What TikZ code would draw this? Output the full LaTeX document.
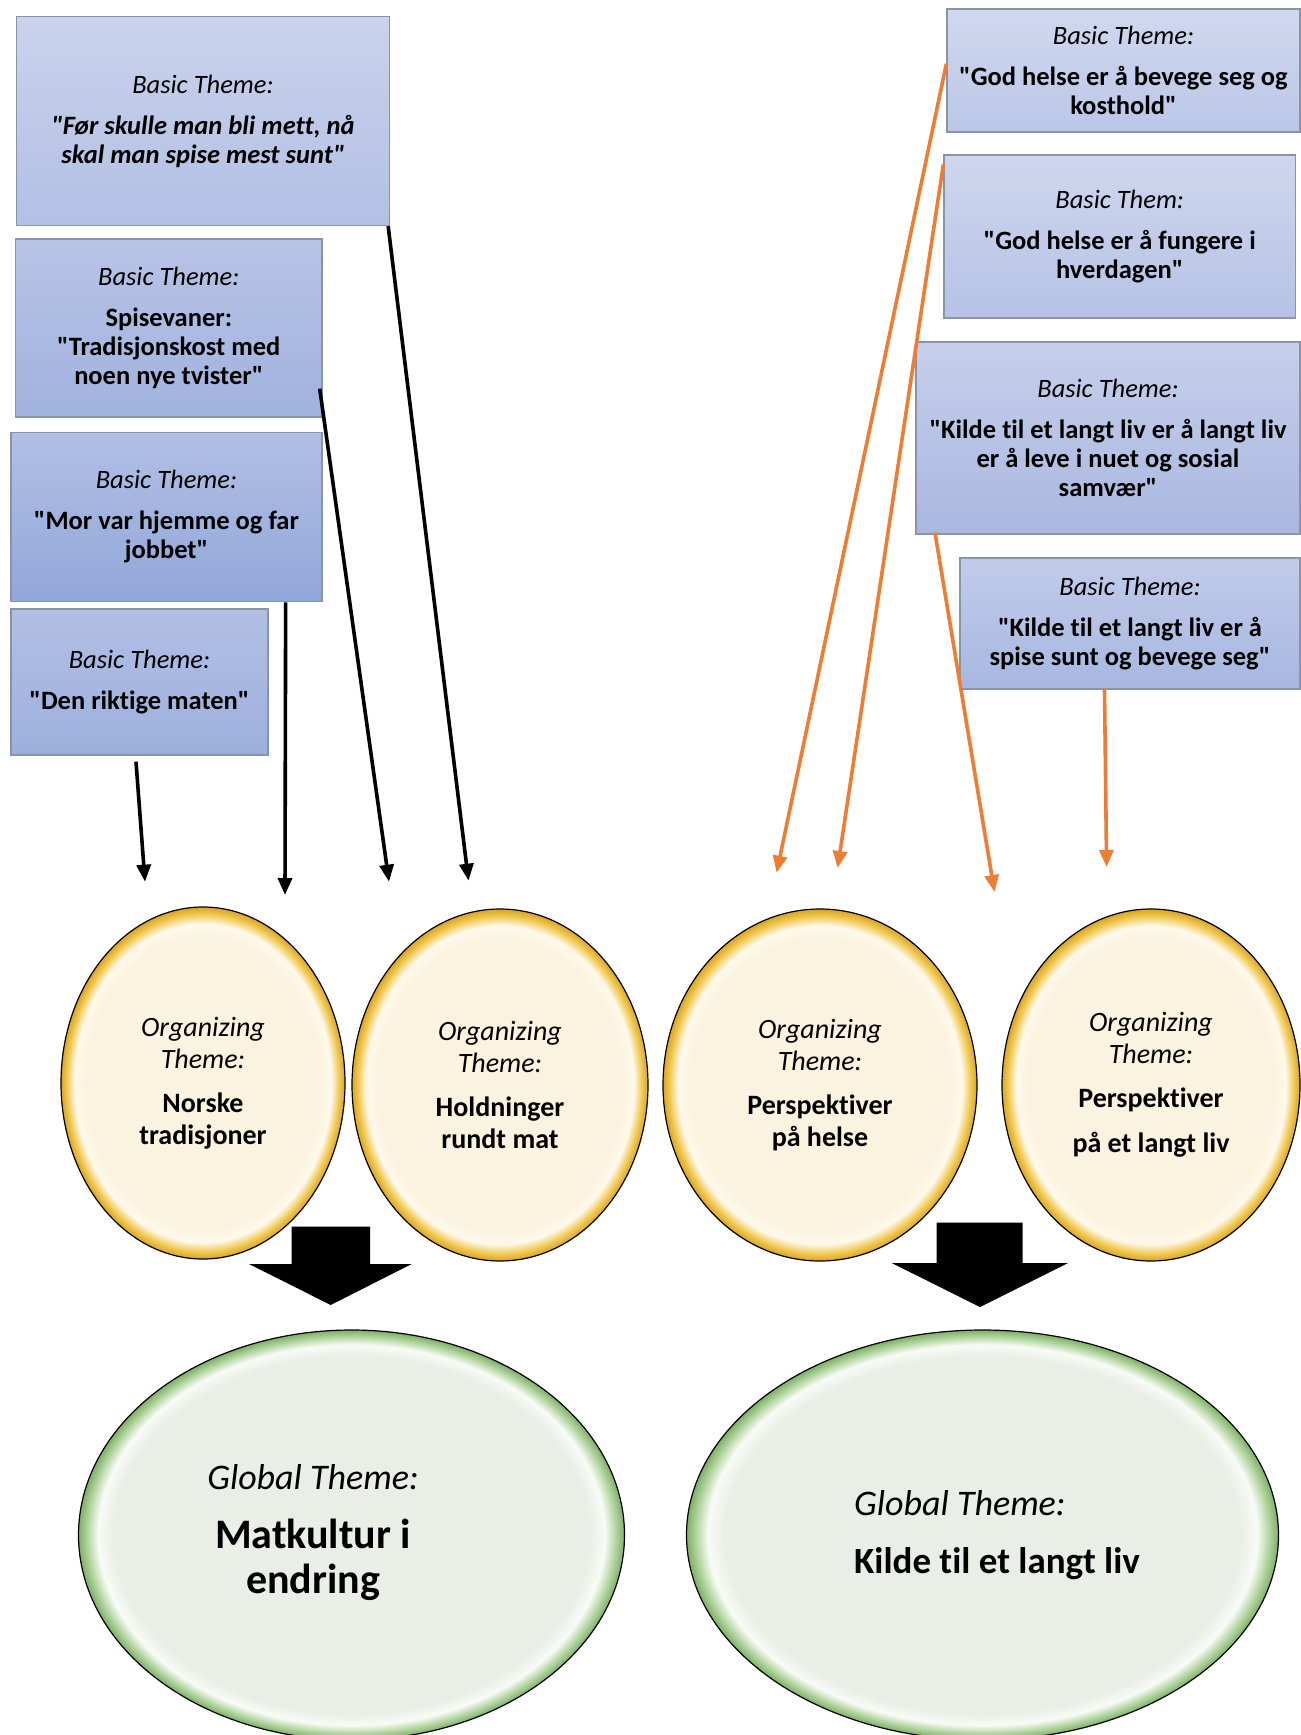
\documentclass[tikz,border=0pt]{standalone}
\usepackage{fontspec}
\setmainfont{Carlito}[Ligatures={TeXOff,NoCommon}]
\usetikzlibrary{shapes.geometric,arrows.meta,calc}
\definecolor{ycream}{HTML}{FAF3DF}
\definecolor{yhigh}{HTML}{FFF9EC}
\definecolor{ygold}{HTML}{F0C850}
\definecolor{ydark}{HTML}{D9A526}
\definecolor{gcream}{HTML}{E9EFE6}
\definecolor{ghigh}{HTML}{F8FBF6}
\definecolor{ggreen}{HTML}{AAD197}
\definecolor{gdark}{HTML}{7FAE69}
\definecolor{boxline}{HTML}{8B93AA}
\definecolor{orangeline}{HTML}{ED7D31}
\definecolor{topA}{HTML}{CAD2EC}\definecolor{botA}{HTML}{B3C0E4}
\definecolor{topB}{HTML}{B8C4E6}\definecolor{botB}{HTML}{A0B2DE}
\definecolor{topC}{HTML}{B2BFE4}\definecolor{botC}{HTML}{91A7D9}
\definecolor{topD}{HTML}{B2BFE4}\definecolor{botD}{HTML}{9DB0DD}
\definecolor{topE}{HTML}{D1D8EE}\definecolor{botE}{HTML}{BBC7E8}
\definecolor{topF}{HTML}{CFD6EE}\definecolor{botF}{HTML}{B6C3E6}
\definecolor{topG}{HTML}{C6CFEB}\definecolor{botG}{HTML}{A9B8E0}
\definecolor{topH}{HTML}{C2CCEA}\definecolor{botH}{HTML}{A6B7E0}
\pgfdeclareradialshading{yelring}{\pgfpoint{0bp}{0bp}}{color(0bp)=(ycream); color(20.8bp)=(ycream); color(22.6bp)=(yhigh); color(24bp)=(ygold); color(25bp)=(ydark); color(50bp)=(ydark)}
\pgfdeclareradialshading{grnring}{\pgfpoint{0bp}{0bp}}{color(0bp)=(gcream); color(21.8bp)=(gcream); color(23.2bp)=(ghigh); color(24.3bp)=(ggreen); color(25bp)=(gdark); color(50bp)=(gdark)}
\tikzset{
  basicbox/.style={rectangle, draw=boxline, line width=1.3pt, inner sep=0pt, align=center,
    font=\fontsize{26.5}{29}\selectfont},
  orgell/.style={ellipse, draw=black, line width=1.2pt, shading=yelring, inner sep=0pt, align=center,
    font=\fontsize{28}{32}\selectfont},
  globell/.style={ellipse, draw=black, line width=1.2pt, shading=grnring, inner sep=0pt},
  globtext/.style={inner sep=0pt, font=\fontsize{42}{45}\selectfont},
  thinarrow/.style={line width=3.6pt, -{Triangle[length=17pt,width=14pt]}},
  orangearrow/.style={thinarrow, draw=orangeline, fill=orangeline},
  fatarrow/.style={fill=black}
}
\begin{document}
\begin{tikzpicture}[x=1pt,y=-1pt]
\useasboundingbox (0,0) rectangle (1301,1735);
% basic theme boxes (left)
\node[basicbox, top color=topA, bottom color=botA, minimum width=373pt, minimum height=209pt] (b1) at (203,121)
  {{\itshape Basic Theme:}\\[12pt]{\bfseries\itshape "Før skulle man bli mett, nå}\\{\bfseries\itshape skal man spise mest sunt"}};
\node[basicbox, top color=topB, bottom color=botB, minimum width=306.5pt, minimum height=178pt] (b2) at (168.8,328)
  {{\itshape Basic Theme:}\\[12pt]{\bfseries Spisevaner:}\\{\bfseries "Tradisjonskost med}\\{\bfseries noen nye tvister"}};
\node[basicbox, top color=topC, bottom color=botC, minimum width=311pt, minimum height=169.5pt] (b3) at (166.5,517)
  {{\itshape Basic Theme:}\\[12pt]{\bfseries "Mor var hjemme og far}\\{\bfseries jobbet"}};
\node[basicbox, top color=topD, bottom color=botD, minimum width=257pt, minimum height=146pt] (b4) at (139.5,682)
  {{\itshape Basic Theme:}\\[12pt]{\bfseries "Den riktige maten"}};
% basic theme boxes (right)
\node[basicbox, top color=topE, bottom color=botE, minimum width=353pt, minimum height=123pt] (r1) at (1123.5,70.5)
  {{\itshape Basic Theme:}\\[12pt]{\bfseries "God helse er å bevege seg og}\\{\bfseries kosthold"}};
\node[basicbox, top color=topF, bottom color=botF, minimum width=351.5pt, minimum height=163pt] (r2) at (1119.75,236.5)
  {{\itshape Basic Them:}\\[12pt]{\bfseries "God helse er å fungere i}\\{\bfseries hverdagen"}};
\node[basicbox, top color=topG, bottom color=botG, minimum width=384pt, minimum height=192pt] (r3) at (1108,438)
  {{\itshape Basic Theme:}\\[12pt]{\bfseries "Kilde til et langt liv er å langt liv}\\{\bfseries er å leve i nuet og sosial}\\{\bfseries samvær"}};
\node[basicbox, top color=topH, bottom color=botH, minimum width=340pt, minimum height=131pt] (r4) at (1130,623.5)
  {{\itshape Basic Theme:}\\[12pt]{\bfseries "Kilde til et langt liv er å}\\{\bfseries spise sunt og bevege seg"}};
% organizing themes
\node[orgell, minimum width=284pt, minimum height=352pt] (e1) at (203,1083)
  {{\itshape Organizing}\\{\itshape Theme:}\\[12pt]{\bfseries Norske}\\{\bfseries tradisjoner}};
\node[orgell, minimum width=296pt, minimum height=352pt] (e2) at (500,1085)
  {{\itshape Organizing}\\{\itshape Theme:}\\[12pt]{\bfseries Holdninger}\\{\bfseries rundt mat}};
\node[orgell, minimum width=314pt, minimum height=352pt] (e3) at (820,1085)
  {{\itshape Organizing}\\{\itshape Theme:}\\[12pt]{\bfseries Perspektiver}\\{\bfseries på helse}};
\node[orgell, minimum width=298pt, minimum height=352pt] (e4) at (1151,1085)
  {{\itshape Organizing}\\{\itshape Theme:}\\[12pt]{\bfseries Perspektiver}\\[13pt]{\bfseries på et langt liv}};
% global themes
\node[globell, minimum width=546pt, minimum height=410pt] (g1) at (351.5,1535) {};
\node[globtext, align=center] (g1t) at (313,1533)
  {{\fontsize{36}{44}\selectfont\itshape Global Theme:}\\[14pt]{\bfseries Matkultur i}\\{\bfseries endring}};
\node[globell, minimum width=592pt, minimum height=410pt] (g2) at (982.5,1535) {};
\node[globtext, anchor=west, align=left, font=\fontsize{37}{44}\selectfont] (g2t) at (854,1535)
  {{\fontsize{36}{44}\selectfont\itshape Global Theme:}\\[14pt]{\bfseries Kilde til et langt liv}};
% free ends of the thin arrows
\coordinate (t1) at (145,881.7);
\coordinate (t2) at (285,895);
\coordinate (t3) at (389,881.7);
\coordinate (t4) at (468.5,880.7);
\coordinate (u1) at (776.6,872.7);
\coordinate (u2) at (837.6,868);
\coordinate (u3) at (994.5,892);
\coordinate (u4) at (1106.6,867);
% black arrows
\draw[thinarrow] ($(b4.south)+(-3.5,6)$) -- (t1);
\draw[thinarrow] ($(b3.south east)+(-37,0)$) -- (t2);
\draw[thinarrow] ($(b2.south east)+(-3,-29)$) -- (t3);
\draw[thinarrow] ($(b1.south east)+(-2,0)$) -- (t4);
% orange arrows
\draw[orangearrow] ($(r1.west)+(0,-6.7)$) -- (u1);
\draw[orangearrow] ($(r2.north west)+(0,10)$) -- (u2);
\draw[orangearrow] ($(r3.south west)+(19.6,-2)$) -- (u3);
\draw[orangearrow] ($(r4.south)+(-25.5,-1)$) -- (u4);
% block arrows
\fill[fatarrow] (291.7,1226.7) -- (370,1226.7) -- (370,1264) -- (411.7,1264) -- (330.7,1305)
  -- (249,1264) -- (291.7,1264) -- cycle;
\fill[fatarrow] (936.7,1222.7) -- (1022.7,1222.7) -- (1022.7,1263) -- (1068,1263) -- (980,1307)
  -- (891.7,1263) -- (936.7,1263) -- cycle;
\end{tikzpicture}
\end{document}
